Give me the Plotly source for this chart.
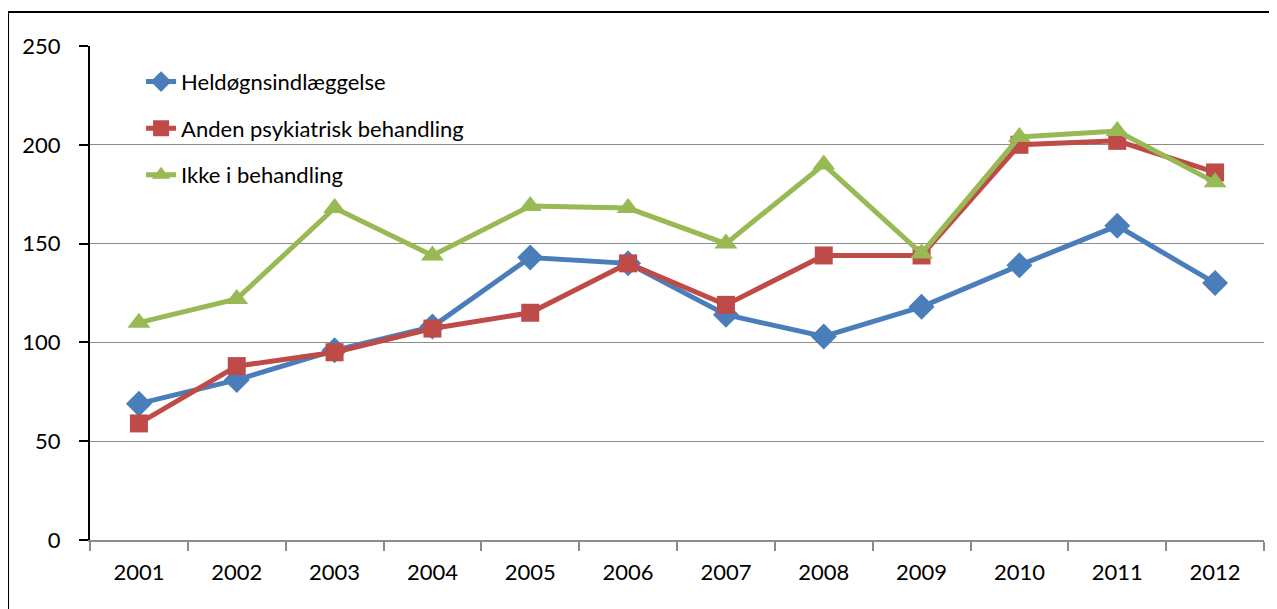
import plotly.graph_objects as go

years = ["2001", "2002", "2003", "2004", "2005", "2006", "2007", "2008", "2009", "2010", "2011", "2012"]
heldoegn = [69, 81, 96, 108, 143, 140, 114, 103, 118, 139, 159, 130]
anden = [59, 88, 95, 107, 115, 140, 119, 144, 144, 200, 202, 186]
ikke = [110, 122, 168, 144, 169, 168, 150, 190, 145, 204, 207, 181]

series = [
    ("Heldøgnsindlæggelse", heldoegn, "#4A7EBB", "diamond", 20),
    ("Anden psykiatrisk behandling", anden, "#BE4B48", "square", 18),
    ("Ikke i behandling", ikke, "#98B954", "triangle-up", 20),
]

fig = go.Figure()
for i, (name, vals, color, symbol, size) in enumerate(series):
    fig.add_trace(go.Scatter(
        x=years, y=vals, name=name, mode="lines+markers",
        line=dict(color=color, width=5),
        marker=dict(symbol=symbol, size=size, color=color),
        legendgroup=f"g{i}",
    ))

# outer frame around the chart
fig.add_shape(type="rect", xref="paper", yref="paper",
              x0=-0.0698, x1=1.0102, y0=-0.16, y1=1.0688,
              line=dict(color="black", width=2), layer="below")

# page body has an 8px margin, so the figure is a bit smaller than the window
fig.update_layout(
    width=1269, height=601,
    margin=dict(l=82, r=13, t=38, b=69),
    paper_bgcolor="white", plot_bgcolor="white",
    font=dict(family="Lato, Open Sans, sans-serif", size=22, color="black"),
    legend=dict(x=0.0435, y=0.97, xanchor="left", yanchor="top",
                traceorder="grouped", tracegroupgap=15,
                bgcolor="rgba(0,0,0,0)", font=dict(size=22)),
)
fig.update_yaxes(range=[0, 250], dtick=50, gridcolor="#8c8c8c", gridwidth=1,
                 showline=True, linecolor="black", linewidth=2,
                 ticks="outside", ticklen=9, tickcolor="black", tickwidth=2,
                 zeroline=False, ticklabelstandoff=14)
fig.update_xaxes(type="category", range=[-0.5, 11.5], tickson="boundaries",
                 showline=True, linecolor="#8c8c8c", linewidth=2,
                 ticks="outside", ticklen=9, tickcolor="#8c8c8c", tickwidth=2,
                 showgrid=False, ticklabelstandoff=12)

fig.write_html("out.html")
